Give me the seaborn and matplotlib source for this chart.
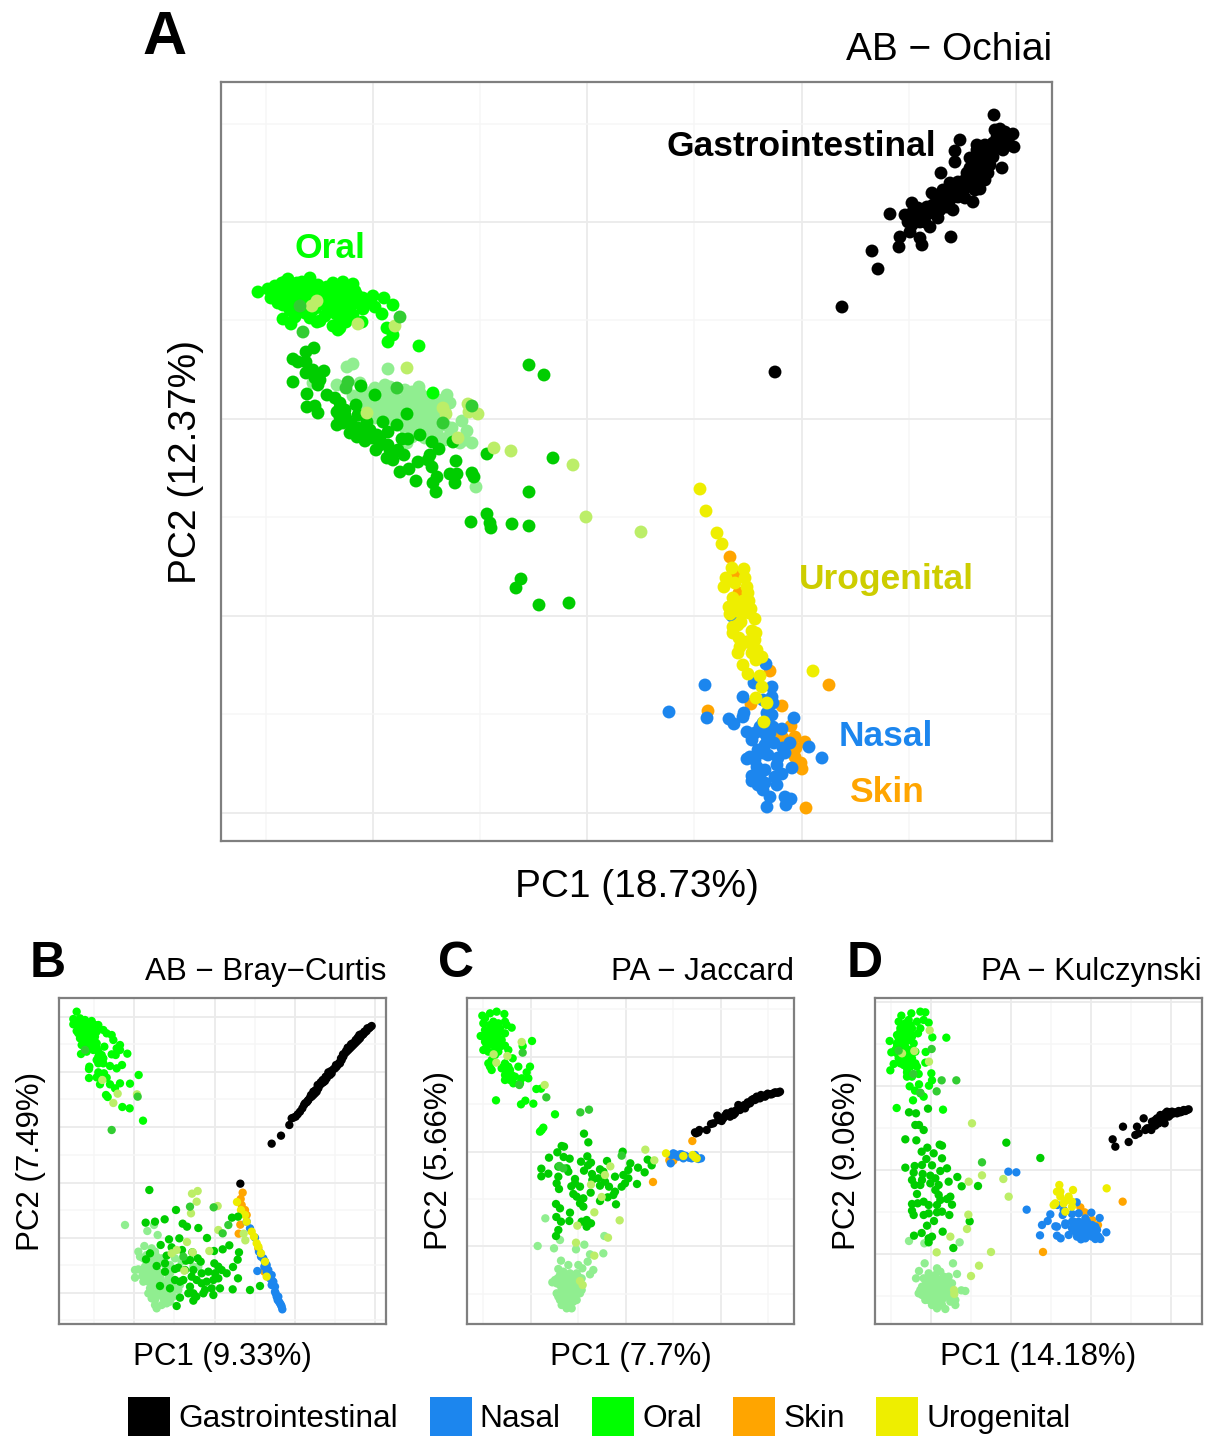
import pandas as pd
import matplotlib
matplotlib.use("Agg")
import matplotlib.pyplot as plt
from matplotlib.patches import Patch
import seaborn as sns

# panel A scores
a_gastro = [(994,115),(960,140),(955,151),(955,162),(941,173),(890,214),(872,251),(878,269),(900,237),(899,247),(910,232),(922,245),(920,238),(912,203),(930,227),(951,237),(973,202),(958,197),(1002,168),(988,173),(980,189),(1000,129),(1013,134),(1014,147),(977,145),(932,193),(915,220),(910,218),(917,213),(927,207),(933,213),(938,218),(942,203),(947,207),(953,210),(943,190),(950,183),(958,182),(967,187),(973,182),(970,168),(973,160),(980,157),(987,153),(993,143),(1000,140),(1007,142),(1003,150),(993,157),(977,172),(967,173),(947,197),(937,200),(923,215),(973,172),(980,167),(990,150),(997,137),(1008,137),(970,158),(977,150),(985,180),(978,178),(960,185),(930,210),(952,190),(842,307),(775,372),(905,215),(912,213),(908,222),(920,222),(926,215),(933,205),(940,210),(945,198),(950,200),(955,195),(962,192),(965,180),(970,178),(975,165),(982,170),(985,162),(988,158),(992,150),(998,148),(1003,140),(1005,132),(912,225),(918,208),(925,222),(935,207),(958,190),(965,198),(975,190),(990,165),(985,145),(1010,145),(995,130)]
a_skin = [(730,557),(735,575),(739,593),(747,642),(770,671),(829,685),(782,706),(751,704),(708,711),(791,726),(783,738),(795,737),(805,742),(795,757),(801,763),(802,769),(806,808),(778,735),(796,748)]
a_nasal = [(732,616),(766,664),(705,685),(754,683),(772,687),(743,697),(763,700),(772,697),(773,703),(669,712),(707,718),(729,719),(734,724),(743,717),(744,713),(747,732),(755,733),(767,713),(772,715),(763,723),(773,727),(782,729),(794,718),(767,737),(774,743),(790,743),(809,747),(822,758),(792,768),(758,750),(750,757),(747,759),(763,753),(778,758),(785,753),(777,765),(757,767),(765,770),(782,774),(752,776),(752,781),(765,783),(777,785),(770,797),(767,807),(785,797),(791,799),(786,805),(763,732),(760,727),(765,745),(775,777),(763,790),(755,760),(768,755),(760,775),(758,785),(752,740),(770,733),(783,748)]
a_uro = [(700,489),(706,511),(717,533),(722,544),(732,568),(744,569),(745,578),(726,578),(724,587),(735,583),(747,587),(748,593),(733,598),(743,601),(749,601),(729,607),(730,614),(736,611),(751,609),(749,613),(755,619),(741,622),(733,627),(752,631),(733,633),(756,633),(739,638),(740,647),(738,653),(755,640),(752,653),(757,650),(756,660),(762,657),(743,665),(748,674),(760,676),(762,687),(756,698),(764,722),(813,671),(767,703),(738,605),(745,612),(738,625),(748,642)]
a_light = [(347,367),(353,364),(388,369),(337,385),(360,383),(353,396),(363,395),(375,388),(385,385),(390,387),(419,387),(377,400),(387,400),(397,400),(407,398),(420,393),(380,410),(390,410),(400,408),(410,413),(420,403),(432,403),(423,413),(433,413),(393,420),(403,423),(417,420),(427,422),(417,430),(407,433),(420,432),(447,395),(450,403),(462,421),(467,431),(472,443),(465,440),(450,435),(440,438),(430,437),(460,443),(476,487),(437,427),(313,383),(360,423),(407,443),(380,403),(370,397),(393,395),(412,407),(400,417),(440,420),(387,390),(365,405),(372,405),(375,413),(385,417),(395,412),(405,415),(415,408),(425,408),(437,408),(445,412),(385,395),(395,390),(405,390),(412,392),(425,397),(438,400),(372,392),(365,400),(398,425),(410,425),(420,425),(430,428),(412,437),(405,428),(392,405),(402,403),(415,400),(385,405),(375,418),(445,425),(452,428),(455,438),(445,440),(437,433),(425,438),(395,398),(408,420),(418,410),(428,417),(435,420)]
a_dark = [(293,359),(298,362),(306,352),(314,348),(306,362),(313,370),(324,371),(306,373),(293,382),(315,378),(320,380),(318,385),(307,394),(307,407),(315,406),(318,413),(327,395),(335,398),(340,403),(345,410),(337,412),(340,417),(337,425),(343,423),(350,433),(357,437),(365,441),(361,386),(375,395),(356,405),(358,415),(367,422),(370,430),(380,438),(388,432),(383,422),(397,425),(407,414),(402,439),(408,439),(420,435),(432,442),(439,449),(453,442),(487,454),(456,461),(376,450),(388,445),(387,458),(393,460),(398,450),(404,455),(418,462),(430,455),(428,460),(432,467),(400,472),(409,469),(416,481),(437,477),(433,483),(436,492),(450,474),(457,474),(455,483),(472,473),(474,477),(377,435),(363,432),(390,450),(529,365),(544,375),(553,458),(529,492),(471,522),(487,514),(490,523),(491,528),(512,524),(529,526),(521,579),(516,588),(539,605),(569,603),(345,415),(352,425),(358,428),(365,435),(372,438),(380,445),(340,408),(347,420)]
a_oral = [(258,292),(268,289),(271,298),(277,290),(282,283),(288,279),(283,287),(290,290),(297,283),(302,282),(310,278),(318,285),(327,293),(333,283),(343,282),(353,284),(357,295),(363,298),(373,296),(384,298),(393,305),(382,314),(375,307),(363,309),(353,315),(362,322),(387,328),(393,335),(388,342),(419,346),(340,328),(333,326),(338,330),(320,321),(310,318),(317,322),(295,317),(283,319),(291,324),(283,305),(290,298),(297,295),(303,290),(310,295),(317,295),(320,302),(328,310),(335,302),(340,297),(347,293),(348,307),(340,318),(342,312),(333,290),(313,290),(287,293),(278,295),(295,305),(303,298),(350,300),(327,287),(338,290),(300,288),(293,288),(285,282),(307,287),(433,393),(275,286),(280,292),(286,297),(292,300),(298,302),(304,306),(310,303),(316,308),(322,298),(328,303),(334,297),(340,305),(345,311),(352,305),(358,303),(299,310),(305,313),(312,311),(325,316),(330,311),(336,314),(346,322),(320,289),(345,288),(355,291),(365,303),(278,303),(290,310)]
a_olive = [(312,306),(317,301),(358,324),(395,326),(407,368),(367,413),(443,408),(446,414),(468,404),(469,412),(478,414),(458,438),(494,448),(511,451),(573,465),(586,517),(641,532)]
a_lime = [(300,306),(303,332),(400,317),(348,382),(346,388),(397,388),(443,423),(472,406)]

# panel B scores
b_gastro = [(556,566),(650,446),(678,422),(703,390),(710,370),(722,365),(735,350),(750,325),(760,315),(770,305),(785,290),(790,280),(800,265),(815,250),(825,240),(840,220),(850,208),(860,195),(870,175),(880,165),(890,155),(905,140),(915,130),(925,118),(935,108),(950,93),(765,308),(780,295),(795,270),(810,258),(830,235),(845,215),(855,205),(875,170),(885,160),(900,145),(910,135),(920,122),(930,112),(942,100),(755,322),(775,300),(805,262),(865,185),(895,150),(715,368),(728,358),(742,340),(747,330),(758,318),(768,300),(775,290),(782,285),(788,270),(797,262),(803,255),(812,245),(820,232),(828,228),(836,222),(843,210),(853,203),(858,190),(864,178),(873,168),(878,158),(888,148),(893,145),(902,135),(908,128),(913,120),(918,118),(928,110),(937,100),(945,97)]
b_skin = [(563,593),(557,612),(560,630),(570,645),(556,689),(551,716),(575,660),(628,830),(610,760)]
b_nasal = [(575,680),(585,700),(600,728),(612,770),(607,828),(625,790),(635,810),(640,825),(645,840),(650,855),(655,870),(660,890),(665,905),(672,920),(682,943),(678,930),(630,800),(640,835),(655,860),(668,915),(618,785),(628,815),(635,830),(645,850),(650,870),(660,875),(670,905),(675,925),(680,935),(650,840),(662,895)]
b_uro = [(546,621),(558,645),(570,660),(575,680),(590,710),(597,725),(605,745),(610,755),(618,775),(630,800),(635,845)]
b_light = [(210,690),(277,708),(297,690),(308,720),(268,753),(250,770),(290,760),(300,770),(265,790),(275,800),(250,823),(240,825),(240,848),(262,843),(285,810),(300,800),(320,790),(290,830),(310,830),(330,830),(280,860),(300,855),(320,860),(340,850),(285,880),(310,885),(335,880),(350,890),(370,885),(290,910),(300,915),(325,910),(345,920),(305,940),(320,930),(335,925),(430,815),(360,790),(380,800),(415,815),(295,850),(350,860),(255,785),(270,815),(280,825),(290,790),(305,785),(310,805),(330,810),(345,835),(265,860),(270,840),(285,845),(300,840),(310,870),(325,865),(295,870),(320,895),(340,900),(355,905),(280,895),(310,900),(340,865),(355,870),(375,870),(300,930),(260,825),(275,780),(315,845),(330,885),(295,895),(345,810)]
b_dark = [(283,585),(363,645),(272,683),(300,680),(329,673),(383,686),(396,695),(430,699),(456,729),(523,751),(531,668),(549,665),(503,763),(477,768),(552,772),(548,794),(534,816),(549,850),(533,883),(585,885),(615,873),(342,733),(373,730),(317,750),(350,757),(381,765),(285,775),(412,772),(273,793),(335,782),(393,797),(405,795),(428,790),(437,800),(330,805),(305,813),(360,822),(370,818),(390,825),(415,825),(440,835),(460,830),(478,805),(490,815),(500,825),(515,835),(480,835),(330,830),(360,855),(375,860),(385,855),(410,845),(425,855),(440,865),(455,860),(475,855),(490,850),(495,880),(470,880),(450,885),(405,875),(415,895),(400,895),(445,895),(475,900),(375,908),(424,905),(415,917),(365,933),(315,873),(345,880)]
b_oral = [(65,50),(55,72),(55,88),(75,70),(90,75),(110,78),(70,95),(85,90),(100,90),(120,90),(65,108),(80,115),(95,110),(115,110),(130,90),(145,105),(155,115),(170,120),(175,135),(195,150),(185,160),(75,130),(90,125),(105,130),(120,125),(80,150),(100,145),(125,145),(148,155),(195,165),(78,177),(95,170),(115,165),(130,185),(145,190),(170,178),(182,180),(217,176),(125,195),(130,205),(145,205),(165,213),(185,220),(201,210),(103,215),(102,222),(102,249),(125,247),(130,232),(147,235),(155,248),(135,268),(165,268),(195,265),(180,280),(225,266),(251,240),(153,300),(158,306),(202,336),(224,340),(264,377),(110,115),(105,105),(90,100),(115,130),(100,120),(65,85),(75,80),(85,80),(95,85),(110,85),(120,100),(125,110),(80,100),(90,115),(100,100),(105,115),(115,100),(70,115),(85,130),(95,135),(110,140),(120,140),(105,150),(85,140),(125,160),(90,155),(130,170),(140,180)]
b_olive = [(142,255),(188,296),(246,298),(175,324),(411,596),(428,588),(425,620),(408,655),(488,633),(490,705),(396,741),(413,772),(350,775),(365,765),(463,768),(388,827),(566,716),(571,736)]
b_lime = [(90,165),(170,405),(248,305),(405,635),(476,637),(520,690),(503,715),(385,785)]

# panel C scores
c_gastro = [(693,415),(703,405),(725,405),(738,387),(757,362),(770,378),(785,355),(795,365),(810,355),(820,330),(830,340),(845,330),(860,315),(875,305),(890,305),(905,300),(925,295),(945,290),(835,335),(850,325),(870,315),(885,310),(900,305),(915,298),(935,293),(815,345),(805,360),(775,370),(690,412),(855,325),(700,412),(745,385),(765,375),(780,362),(790,360),(800,350),(812,348),(825,338),(838,330),(848,322),(858,320),(865,312),(878,310),(888,300),(898,302),(908,296),(920,298),(930,292),(940,293),(760,375),(825,345),(840,340)]
c_skin = [(682,438),(613,496),(625,497),(564,561)]
c_nasal = [(617,505),(620,480),(635,480),(650,478),(665,485),(680,490),(695,488),(708,490),(690,480),(655,490),(630,478),(640,485),(625,475),(645,478),(660,482),(672,488),(685,485),(700,492)]
c_uro = [(603,475),(655,483),(683,480),(690,487),(695,490)]
c_light = [(241,670),(218,753),(267,760),(285,735),(358,749),(333,763),(418,723),(415,775),(375,778),(368,800),(288,797),(310,810),(340,810),(352,820),(385,825),(375,838),(280,822),(295,830),(278,850),(262,862),(290,860),(310,850),(340,845),(350,850),(290,880),(320,880),(350,885),(305,895),(280,905),(295,905),(330,905),(310,920),(325,920),(290,930),(305,940),(320,940),(300,870),(330,865),(315,835),(285,840),(300,845),(320,850),(335,835),(275,865),(305,860),(320,860),(340,875),(270,855),(285,870),(305,875),(335,890),(275,895),(290,890),(320,895),(345,895),(300,915),(285,915),(335,915),(300,925),(315,930),(305,885),(315,905),(295,850),(350,870)]
c_dark = [(357,416),(370,442),(290,453),(297,455),(277,472),(252,488),(296,486),(314,491),(367,484),(348,500),(378,503),(369,511),(426,498),(473,470),(496,505),(519,518),(548,494),(560,511),(539,532),(516,567),(229,521),(229,544),(250,536),(280,515),(305,520),(310,530),(357,527),(381,537),(405,523),(415,530),(490,525),(280,545),(275,565),(282,582),(330,552),(330,565),(319,574),(345,575),(382,555),(400,550),(405,572),(420,560),(450,545),(475,540),(490,550),(480,565),(470,575),(432,575),(450,590),(325,597),(335,605),(377,593),(355,610),(345,625),(405,618),(428,607),(445,600),(453,628),(273,627),(285,640),(355,635),(274,666),(315,653),(288,680),(313,678),(350,680),(365,675),(378,685),(365,695),(280,705),(273,723)]
c_oral = [(52,62),(60,70),(75,55),(95,50),(118,57),(55,85),(85,80),(100,85),(120,80),(125,90),(140,98),(60,105),(80,100),(105,100),(47,123),(65,120),(90,115),(120,115),(60,140),(80,135),(100,130),(55,165),(85,150),(105,155),(120,152),(130,165),(70,170),(100,170),(70,205),(80,195),(143,190),(173,153),(201,138),(160,215),(120,205),(130,215),(195,215),(80,225),(110,220),(135,225),(185,232),(190,250),(120,255),(135,255),(150,245),(170,250),(165,265),(214,282),(228,281),(93,316),(168,328),(181,317),(205,326),(270,358),(225,410),(235,398),(230,405),(145,265),(75,90),(90,95),(95,125),(75,110),(70,130),(85,145),(70,150),(95,145),(65,150),(90,165),(110,135),(115,215),(125,235),(140,240),(120,240),(75,215),(90,180),(60,120),(85,120),(100,115)]
c_olive = [(170,141),(86,178),(127,183),(94,203),(239,270),(541,464),(568,496),(436,514),(378,569),(410,606),(388,652),(464,676),(337,692),(333,743),(429,728),(388,782),(345,858),(353,870),(420,540)]
c_lime = [(173,173),(163,270),(244,307),(346,352),(372,344),(283,513),(295,520),(470,482)]

# panel D scores
d_gastro = [(722,433),(730,455),(770,441),(753,395),(795,395),(790,420),(800,415),(815,370),(820,405),(840,395),(850,375),(860,385),(870,370),(880,355),(890,365),(900,350),(915,355),(930,350),(950,343),(840,380),(855,370),(875,375),(895,360),(910,352),(925,352),(940,348),(830,400),(865,360),(885,350),(845,385),(852,380),(860,375),(868,380),(872,362),(880,365),(885,360),(893,352),(905,355),(920,348),(935,345),(945,345),(825,400),(838,405),(850,392),(878,385)]
d_skin = [(752,620),(513,771),(625,637),(638,652),(660,675),(678,690),(612,685)]
d_nasal = [(409,530),(433,532),(464,644),(614,622),(556,630),(535,658),(575,645),(572,660),(600,657),(620,655),(658,653),(683,669),(527,678),(510,690),(550,694),(555,695),(580,685),(600,680),(620,680),(640,670),(650,690),(670,695),(504,721),(555,722),(566,730),(590,720),(610,710),(627,733),(640,730),(655,710),(670,732),(685,732),(703,712),(630,700),(650,710),(660,715),(640,695),(625,715),(605,680),(580,690),(630,690),(645,680),(660,690),(650,700),(635,710),(645,720),(660,725),(670,715),(680,725),(620,695),(600,700),(615,725),(640,715),(655,695),(665,705),(675,705)]
d_uro = [(704,580),(562,570),(555,590),(603,585),(565,605),(590,605),(550,625),(575,625),(600,620),(545,630),(600,635),(580,650),(565,590),(585,615)]
d_light = [(111,738),(157,745),(263,742),(158,805),(243,805),(195,820),(141,828),(132,850),(170,835),(255,837),(205,830),(230,845),(155,850),(190,850),(215,860),(240,865),(150,875),(175,875),(200,875),(225,880),(150,900),(170,895),(195,895),(220,895),(250,915),(160,915),(185,915),(210,915),(235,920),(250,930),(195,940),(220,942),(268,886),(280,888),(240,910),(180,865),(160,870),(185,860),(210,870),(165,885),(185,885),(210,885),(235,890),(155,890),(175,905),(200,905),(225,905),(170,915),(195,925),(210,930),(180,930),(235,900),(145,885),(215,845),(230,860),(200,855),(170,850),(165,860),(190,840),(220,870),(140,895)]
d_dark = [(111,352),(132,355),(168,341),(130,390),(141,390),(155,405),(100,433),(133,436),(403,443),(505,489),(166,458),(203,449),(210,452),(149,470),(185,475),(163,492),(210,490),(100,518),(128,513),(150,510),(180,511),(225,520),(125,533),(152,537),(175,542),(205,528),(120,555),(150,555),(190,550),(256,546),(128,570),(145,570),(175,565),(200,570),(230,560),(269,574),(318,573),(135,597),(190,585),(200,600),(235,605),(120,627),(137,625),(155,620),(170,630),(205,615),(225,612),(240,629),(120,647),(125,660),(155,660),(170,655),(195,652),(210,650),(232,660),(186,678),(293,679),(165,692),(212,710),(149,714),(126,722),(180,725),(170,730),(170,742),(244,759),(195,630)]
d_oral = [(88,62),(118,55),(145,50),(160,52),(80,80),(110,75),(135,80),(155,75),(170,83),(85,100),(105,100),(120,100),(145,100),(138,115),(75,120),(95,120),(120,125),(181,127),(223,128),(53,138),(75,145),(100,140),(125,145),(70,165),(90,160),(115,165),(161,171),(58,172),(80,190),(100,190),(120,190),(130,170),(160,203),(65,207),(55,226),(95,210),(115,215),(135,215),(105,232),(120,245),(140,237),(105,245),(178,235),(180,256),(141,268),(171,272),(113,274),(129,287),(123,316),(155,305),(74,339),(213,344),(145,295),(90,90),(100,85),(115,90),(85,110),(100,110),(115,110),(90,130),(105,130),(80,130),(115,135),(85,150),(100,155),(75,175),(90,185),(105,175),(120,175),(100,205),(115,200),(130,205),(105,220),(95,200),(85,205),(75,155)]
d_olive = [(173,106),(90,175),(127,168),(171,200),(300,385),(330,541),(290,560),(394,552),(410,605),(289,659),(285,702),(235,725),(194,772),(357,771),(321,812),(297,843),(246,885),(247,897)]
d_lime = [(80,167),(179,162),(124,237),(209,256),(253,256),(194,289),(145,293),(330,502)]

legend_sites = ['Gastrointestinal', 'Nasal', 'Oral', 'Skin', 'Urogenital']
legend_colors = ['#000000', '#1C86EE', '#00FF00', '#FFA500', '#EEEE00']

palette = {
    'gastro': '#000000', 'skin': '#FFA500', 'nasal': '#1C86EE', 'uro': '#EEEE00',
    'light': '#90EE90', 'dark': '#00CD00', 'oral': '#00FF00',
    'olive': '#BCEE68', 'lime': '#32CD32',
}


def make_df(**groups):
    frames = []
    for site, pts in groups.items():
        f = pd.DataFrame(pts, columns=['pc1', 'pc2'])
        f['site'] = site
        frames.append(f)
    return pd.concat(frames, ignore_index=True)


def draw_panel(rect, df, size, xlim, ylim, major, minor, xlabel, ylabel, title, fs, pads):
    l, t, w, h = rect
    ax = fig.add_axes([l / W, 1 - (t + h) / H, w / W, h / H])
    sns.scatterplot(data=df, x='pc1', y='pc2', hue='site', palette=palette, s=size,
                    linewidth=0, alpha=1, legend=False, ax=ax, zorder=3, clip_on=True)
    ax.set_xlim(*xlim)
    ax.set_ylim(*ylim)
    ax.set_xticks(major[0])
    ax.set_xticks(minor[0], minor=True)
    ax.set_yticks(major[1])
    ax.set_yticks(minor[1], minor=True)
    ax.tick_params(which='both', length=0, labelbottom=False, labelleft=False)
    ax.grid(which='major', color='#EBEBEB', lw=1.3)
    ax.grid(which='minor', color='#F6F6F6', lw=1.1)
    ax.set_axisbelow(True)
    for sp in ax.spines.values():
        sp.set_color('#7F7F7F')
        sp.set_linewidth(1.6)
        sp.set_visible(True)
    ax.set_xlabel(xlabel, fontsize=fs, labelpad=pads[0])
    ax.set_ylabel(ylabel, fontsize=fs, labelpad=pads[1])
    ax.set_title(title, loc='right', fontsize=fs, pad=pads[2])
    return ax


sns.set_theme(style='white')
plt.rcParams['font.family'] = ['Liberation Sans', 'DejaVu Sans']
plt.rcParams['text.color'] = 'black'
plt.rcParams['axes.labelcolor'] = 'black'
plt.rcParams['axes.titlecolor'] = 'black'

W, H = 1214, 1436
fig = plt.figure(figsize=(W / 100, H / 100), dpi=100)

ax_a = draw_panel(
    (221, 82, 831, 759),
    make_df(gastro=a_gastro, skin=a_skin, nasal=a_nasal, uro=a_uro, light=a_light,
            dark=a_dark, oral=a_oral, olive=a_olive, lime=a_lime),
    86, (221, 1052), (841, 82),
    ([373, 587, 802, 1016], [222, 419, 616, 813]),
    ([266, 480, 694, 909], [124, 320, 517, 714]),
    'PC1 (18.73%)', 'PC2 (12.37%)', 'AB − Ochiai', 28, (20.5, 12, 16))

ax_a.text(801, 147, 'Gastrointestinal', color='black', fontsize=25.5, fontweight='bold', ha='center', va='center')
ax_a.text(330, 249, 'Oral', color='#00FF00', fontsize=25.5, fontweight='bold', ha='center', va='center')
ax_a.text(886, 580, 'Urogenital', color='#CDCD00', fontsize=25.5, fontweight='bold', ha='center', va='center')
ax_a.text(886, 737, 'Nasal', color='#1C86EE', fontsize=25.5, fontweight='bold', ha='center', va='center')
ax_a.text(886, 792, 'Skin', color='#FFA500', fontsize=25.5, fontweight='bold', ha='center', va='center')

draw_panel(
    (59, 998, 327, 326),
    make_df(gastro=b_gastro, skin=b_skin, nasal=b_nasal, uro=b_uro, light=b_light,
            dark=b_dark, oral=b_oral, olive=b_olive, lime=b_lime),
    36, (12, 993), (987, 9),
    ([238, 479, 720, 961], [65, 230, 397, 563, 728, 893]),
    ([117, 358, 600, 840], [148, 313, 480, 645, 810, 975]),
    'PC1 (9.33%)', 'PC2 (7.49%)', 'AB − Bray−Curtis', 22.5, (13, 9, 13))

draw_panel(
    (467, 998, 327, 326),
    make_df(gastro=c_gastro, skin=c_skin, nasal=c_nasal, uro=c_uro, light=c_light,
            dark=c_dark, oral=c_oral, olive=c_olive, lime=c_lime),
    36, (6, 987), (987, 9),
    ([198, 482, 767], [186, 470, 754]),
    ([55, 340, 625, 910], [43, 328, 612, 897]),
    'PC1 (7.7%)', 'PC2 (5.66%)', 'PA − Jaccard', 22.5, (13, 9, 13))

draw_panel(
    (875, 998, 327, 326),
    make_df(gastro=d_gastro, skin=d_skin, nasal=d_nasal, uro=d_uro, light=d_light,
            dark=d_dark, oral=d_oral, olive=d_olive, lime=d_lime),
    36, (9, 990), (987, 9),
    ([177, 417, 658, 898], [22, 274, 526, 778]),
    ([56, 296, 537, 778], [148, 400, 652, 904]),
    'PC1 (14.18%)', 'PC2 (9.06%)', 'PA − Kulczynski', 22.5, (13, 9, 13))

fig.text(165 / W, 1 - 39 / H, 'A', fontsize=44, fontweight='bold', ha='center', va='center', color='black')
fig.text(48 / W, 1 - 964 / H, 'B', fontsize=36, fontweight='bold', ha='center', va='center', color='black')
fig.text(456 / W, 1 - 964 / H, 'C', fontsize=36, fontweight='bold', ha='center', va='center', color='black')
fig.text(865 / W, 1 - 964 / H, 'D', fontsize=36, fontweight='bold', ha='center', va='center', color='black')

handles = [Patch(facecolor=c, edgecolor='none', label=s) for s, c in zip(legend_sites, legend_colors)]
fig.legend(handles=handles, loc='center', bbox_to_anchor=(599.5 / W, 1 - 1417 / H), ncol=5,
           frameon=False, fontsize=22.75, handlelength=1.33, handleheight=1.6,
           handletextpad=0.25, columnspacing=1.0, borderpad=0, borderaxespad=0)

fig.savefig('out.png', dpi=100)
